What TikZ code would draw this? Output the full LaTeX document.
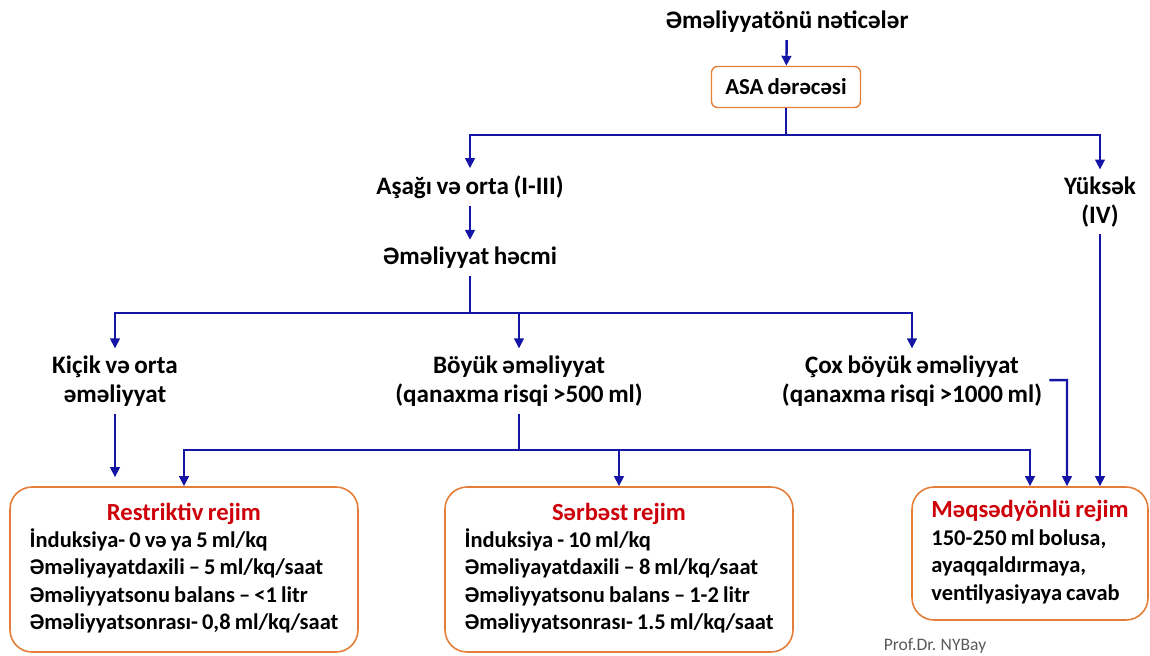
\documentclass[tikz,border=0pt]{standalone}
\usepackage{fontspec}
\setmainfont[WordSpace=0.8]{Carlito}
\usetikzlibrary{arrows.meta, positioning}
\definecolor{flowblue}{RGB}{20,20,165}
\definecolor{boxorange}{RGB}{228,125,55}
\definecolor{titlered}{RGB}{205,0,10}
\tikzstyle{txt} = [align=center, inner xsep=0.14cm, inner ysep=0.14cm,
  font=\bfseries\fontsize{14.3}{16.4}\selectfont]
\tikzstyle{regime} = [rectangle, draw=boxorange, line width=0.9pt, rounded corners=0.44cm,
  inner sep=0pt, font=\bfseries\fontsize{12.8}{15.6}\selectfont]
\tikzstyle{link} = [flowblue, line width=1.4pt]
\tikzstyle{arrow} = [flowblue, line width=1.4pt, -{Triangle[length=0.2cm, width=0.19cm]}]
\newcommand{\regtitle}[1]{\multicolumn{1}{@{}c@{}}{\fontsize{14}{15.6}\selectfont\color{titlered}#1}}

\begin{document}
\begin{tikzpicture}[x=0.02cm, y=-0.02cm]
    \useasboundingbox (0,0) rectangle (1150,656);
    \node[txt] (title) at (787,22) {Əməliyyatönü nəticələr};
    \node[rectangle, draw=boxorange, line width=0.8pt, rounded corners=0.12cm, minimum width=2.98cm,
      minimum height=0.82cm, font=\bfseries\fontsize{13}{15}\selectfont] (asa) at (786,87) {ASA dərəcəsi};
    \node[txt] (low) at (470,187) {Aşağı və orta (I-III)};
    \node[txt] (high) at (1100,202) {Yüksək\\(IV)};
    \node[txt] (vol) at (470,258) {Əməliyyat həcmi};
    \node[txt] (small) at (115,381) {Kiçik və orta\\əməliyyat};
    \node[txt] (big) at (519,381) {Böyük əməliyyat\\(qanaxma risqi >500 ml)};
    \node[txt] (huge) at (912,381) {Çox böyük əməliyyat\\(qanaxma risqi >1000 ml)};
    \node[regime, minimum width=6.96cm, minimum height=3.3cm] (restr) at (184,569.5)
      {\begin{tabular}{@{}l@{}}\regtitle{Restriktiv rejim}\\ İnduksiya- 0 və ya 5 ml/kq\\
       Əməliyayatdaxili – 5 ml/kq/saat\\ Əməliyyatsonu balans – <1 litr\\
       Əməliyyatsonrası- 0,8 ml/kq/saat\end{tabular}};
    \node[regime, minimum width=6.96cm, minimum height=3.3cm] (free) at (619,569.5)
      {\begin{tabular}{@{}l@{}}\regtitle{Sərbəst rejim}\\ İnduksiya - 10 ml/kq\\
       Əməliyayatdaxili – 8 ml/kq/saat\\ Əməliyyatsonu balans – 1-2 litr\\
       Əməliyyatsonrası- 1.5 ml/kq/saat\end{tabular}};
    \node[regime, minimum width=4.72cm, minimum height=2.66cm] (goal) at (1030,553.5)
      {\begin{tabular}{@{}l@{}}\regtitle{Məqsədyönlü rejim}\\ 150-250 ml bolusa,\\
       ayaqqaldırmaya,\\ ventilyasiyaya cavab\end{tabular}};
    \node[text=gray!70!black, font=\fontsize{10}{12}\selectfont] (sign) at (935,646) {Prof.Dr. NYBay};
    \coordinate (j1) at (786,135);
    \coordinate (j2) at (470,313);
    \coordinate (j3) at (519,450);
    \coordinate (hk) at (1067,380);
    \draw[arrow] (title) -- (asa);
    \draw[link] (asa) -- (j1);
    \draw[arrow] (j1) -| (low);
    \draw[arrow] (j1) -| (high);
    \draw[arrow] (low) -- (vol);
    \draw[link] (vol) -- (j2);
    \draw[arrow] (j2) -| (small);
    \draw[arrow] (j2) -| (big);
    \draw[arrow] (j2) -| (huge);
    \draw[arrow, shorten >=0.18cm] (small) -- (small |- restr.north);
    \draw[link] (big) -- (j3);
    \draw[arrow] (j3) -| (restr);
    \draw[arrow] (j3) -| (free);
    \draw[arrow] (j3) -| (goal);
    \draw[arrow] (huge) -- (hk) -- (hk |- goal.north);
    \draw[arrow] (high) -- (high |- goal.north);
  \end{tikzpicture}
\end{document}
